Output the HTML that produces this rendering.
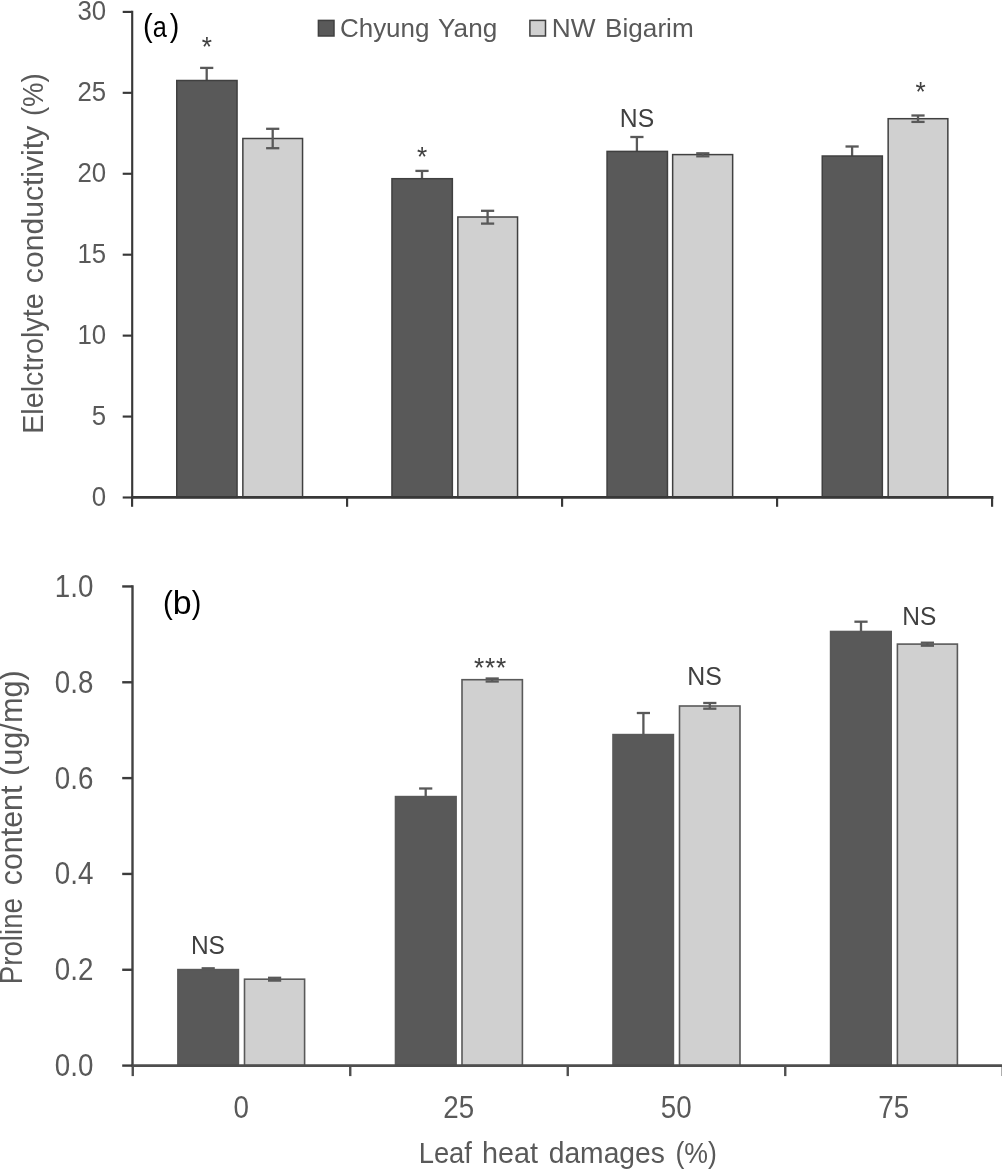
<!DOCTYPE html>
<html><head><meta charset="utf-8"><title>chart</title>
<style>
html,body{margin:0;padding:0;background:#fff;}
svg{display:block;font-family:"Liberation Sans",sans-serif;will-change:transform;}
</style></head><body>
<svg width="1002" height="1170" viewBox="0 0 1002 1170">
<rect width="1002" height="1170" fill="#ffffff"/>
<line x1="206.70" y1="67.90" x2="206.70" y2="93.00" stroke="#595959" stroke-width="2.3"/>
<line x1="200.10" y1="67.90" x2="213.30" y2="67.90" stroke="#595959" stroke-width="2.3"/>
<line x1="200.10" y1="93.00" x2="213.30" y2="93.00" stroke="#595959" stroke-width="2.3"/>
<rect x="176.75" y="80.50" width="60.30" height="417.00" fill="#595959" stroke="#404040" stroke-width="1.5"/>
<rect x="242.85" y="138.50" width="59.70" height="359.00" fill="#d0d0d0" stroke="#404040" stroke-width="1.5"/>
<line x1="272.70" y1="128.80" x2="272.70" y2="148.20" stroke="#595959" stroke-width="2.3"/>
<line x1="266.10" y1="128.80" x2="279.30" y2="128.80" stroke="#595959" stroke-width="2.3"/>
<line x1="266.10" y1="148.20" x2="279.30" y2="148.20" stroke="#595959" stroke-width="2.3"/>
<line x1="422.00" y1="170.90" x2="422.00" y2="186.50" stroke="#595959" stroke-width="2.3"/>
<line x1="415.40" y1="170.90" x2="428.60" y2="170.90" stroke="#595959" stroke-width="2.3"/>
<line x1="415.40" y1="186.50" x2="428.60" y2="186.50" stroke="#595959" stroke-width="2.3"/>
<rect x="391.95" y="178.70" width="60.40" height="318.80" fill="#595959" stroke="#404040" stroke-width="1.5"/>
<rect x="457.85" y="217.00" width="59.70" height="280.50" fill="#d0d0d0" stroke="#404040" stroke-width="1.5"/>
<line x1="487.60" y1="210.80" x2="487.60" y2="223.60" stroke="#595959" stroke-width="2.3"/>
<line x1="481.00" y1="210.80" x2="494.20" y2="210.80" stroke="#595959" stroke-width="2.3"/>
<line x1="481.00" y1="223.60" x2="494.20" y2="223.60" stroke="#595959" stroke-width="2.3"/>
<line x1="636.90" y1="137.00" x2="636.90" y2="165.80" stroke="#595959" stroke-width="2.3"/>
<line x1="630.30" y1="137.00" x2="643.50" y2="137.00" stroke="#595959" stroke-width="2.3"/>
<line x1="630.30" y1="165.80" x2="643.50" y2="165.80" stroke="#595959" stroke-width="2.3"/>
<rect x="607.05" y="151.40" width="60.40" height="346.10" fill="#595959" stroke="#404040" stroke-width="1.5"/>
<rect x="672.65" y="154.60" width="60.00" height="342.90" fill="#d0d0d0" stroke="#404040" stroke-width="1.5"/>
<line x1="702.80" y1="153.30" x2="702.80" y2="156.30" stroke="#595959" stroke-width="2.3"/>
<line x1="696.20" y1="153.30" x2="709.40" y2="153.30" stroke="#595959" stroke-width="2.3"/>
<line x1="696.20" y1="156.30" x2="709.40" y2="156.30" stroke="#595959" stroke-width="2.3"/>
<line x1="852.10" y1="146.50" x2="852.10" y2="165.50" stroke="#595959" stroke-width="2.3"/>
<line x1="845.50" y1="146.50" x2="858.70" y2="146.50" stroke="#595959" stroke-width="2.3"/>
<line x1="845.50" y1="165.50" x2="858.70" y2="165.50" stroke="#595959" stroke-width="2.3"/>
<rect x="822.25" y="156.00" width="60.10" height="341.50" fill="#595959" stroke="#404040" stroke-width="1.5"/>
<rect x="888.15" y="118.70" width="59.70" height="378.80" fill="#d0d0d0" stroke="#404040" stroke-width="1.5"/>
<line x1="918.00" y1="115.50" x2="918.00" y2="121.90" stroke="#595959" stroke-width="2.3"/>
<line x1="911.40" y1="115.50" x2="924.60" y2="115.50" stroke="#595959" stroke-width="2.3"/>
<line x1="911.40" y1="121.90" x2="924.60" y2="121.90" stroke="#595959" stroke-width="2.3"/>
<line x1="132.20" y1="10.80" x2="132.20" y2="498.60" stroke="#383838" stroke-width="2.15"/>
<line x1="131.10" y1="497.40" x2="993.40" y2="497.40" stroke="#383838" stroke-width="2.6"/>
<line x1="122.70" y1="11.90" x2="132.20" y2="11.90" stroke="#383838" stroke-width="2.15"/>
<line x1="122.70" y1="92.83" x2="132.20" y2="92.83" stroke="#383838" stroke-width="2.15"/>
<line x1="122.70" y1="173.77" x2="132.20" y2="173.77" stroke="#383838" stroke-width="2.15"/>
<line x1="122.70" y1="254.70" x2="132.20" y2="254.70" stroke="#383838" stroke-width="2.15"/>
<line x1="122.70" y1="335.63" x2="132.20" y2="335.63" stroke="#383838" stroke-width="2.15"/>
<line x1="122.70" y1="416.57" x2="132.20" y2="416.57" stroke="#383838" stroke-width="2.15"/>
<line x1="122.70" y1="497.50" x2="132.20" y2="497.50" stroke="#383838" stroke-width="2.15"/>
<line x1="132.10" y1="497.50" x2="132.10" y2="506.80" stroke="#383838" stroke-width="2.15"/>
<line x1="347.10" y1="497.50" x2="347.10" y2="506.80" stroke="#383838" stroke-width="2.15"/>
<line x1="562.10" y1="497.50" x2="562.10" y2="506.80" stroke="#383838" stroke-width="2.15"/>
<line x1="777.10" y1="497.50" x2="777.10" y2="506.80" stroke="#383838" stroke-width="2.15"/>
<line x1="992.10" y1="497.50" x2="992.10" y2="506.80" stroke="#383838" stroke-width="2.15"/>
<text transform="translate(77.42,20.30) scale(0.9378,1)" font-size="27.51" fill="#595959">30</text>
<text transform="translate(77.42,101.23) scale(0.9378,1)" font-size="27.51" fill="#595959">25</text>
<text transform="translate(77.42,182.17) scale(0.9378,1)" font-size="27.51" fill="#595959">20</text>
<text transform="translate(77.42,263.10) scale(0.9378,1)" font-size="27.51" fill="#595959">15</text>
<text transform="translate(77.42,344.03) scale(0.9378,1)" font-size="27.51" fill="#595959">10</text>
<text transform="translate(91.76,424.97) scale(0.9378,1)" font-size="27.51" fill="#595959">5</text>
<text transform="translate(91.76,505.90) scale(0.9378,1)" font-size="27.51" fill="#595959">0</text>
<rect x="318.4" y="20.4" width="15.6" height="15.6" fill="#595959" stroke="#404040" stroke-width="1.5"/>
<rect x="529.9" y="20.4" width="15.6" height="15.6" fill="#d0d0d0" stroke="#404040" stroke-width="1.5"/>
<text transform="translate(339.98,37.40) scale(1.0414,1)" font-size="24.93" fill="#595959">Chyung</text>
<text transform="translate(438.12,37.40) scale(1.0494,1)" font-size="24.93" fill="#595959">Yang</text>
<text transform="translate(551.75,37.40) scale(1.0386,1)" font-size="25.29" fill="#595959">NW</text>
<text transform="translate(605.06,37.40) scale(1.0342,1)" font-size="25.29" fill="#595959">Bigarim</text>
<text transform="translate(619.87,127.20) scale(0.9353,1)" font-size="26.45" fill="#404040">NS</text>
<text transform="translate(42.90,433.86) rotate(-90) scale(0.9563,1)" font-size="30.09" fill="#595959">Elelctrolyte</text>
<text transform="translate(42.90,283.17) rotate(-90) scale(1.0014,1)" font-size="30.09" fill="#595959">conductivity</text>
<text transform="translate(42.90,116.11) rotate(-90) scale(0.9151,1)" font-size="30.09" fill="#595959">(%)</text>
<line x1="208.20" y1="968.30" x2="208.20" y2="971.00" stroke="#595959" stroke-width="2.3"/>
<line x1="201.60" y1="968.30" x2="214.80" y2="968.30" stroke="#595959" stroke-width="2.3"/>
<line x1="201.60" y1="971.00" x2="214.80" y2="971.00" stroke="#595959" stroke-width="2.3"/>
<rect x="177.90" y="969.60" width="60.50" height="96.00" fill="#595959" stroke="#595959" stroke-width="1.6"/>
<rect x="244.50" y="979.20" width="60.10" height="86.40" fill="#d0d0d0" stroke="#595959" stroke-width="1.6"/>
<line x1="274.60" y1="977.80" x2="274.60" y2="980.60" stroke="#595959" stroke-width="2.3"/>
<line x1="268.00" y1="977.80" x2="281.20" y2="977.80" stroke="#595959" stroke-width="2.3"/>
<line x1="268.00" y1="980.60" x2="281.20" y2="980.60" stroke="#595959" stroke-width="2.3"/>
<line x1="425.70" y1="788.50" x2="425.70" y2="805.00" stroke="#595959" stroke-width="2.3"/>
<line x1="419.10" y1="788.50" x2="432.30" y2="788.50" stroke="#595959" stroke-width="2.3"/>
<line x1="419.10" y1="805.00" x2="432.30" y2="805.00" stroke="#595959" stroke-width="2.3"/>
<rect x="395.50" y="796.60" width="60.60" height="269.00" fill="#595959" stroke="#595959" stroke-width="1.6"/>
<rect x="462.00" y="679.70" width="60.40" height="385.90" fill="#d0d0d0" stroke="#595959" stroke-width="1.6"/>
<line x1="492.20" y1="678.50" x2="492.20" y2="681.50" stroke="#595959" stroke-width="2.3"/>
<line x1="485.60" y1="678.50" x2="498.80" y2="678.50" stroke="#595959" stroke-width="2.3"/>
<line x1="485.60" y1="681.50" x2="498.80" y2="681.50" stroke="#595959" stroke-width="2.3"/>
<line x1="643.40" y1="713.00" x2="643.40" y2="756.00" stroke="#595959" stroke-width="2.3"/>
<line x1="636.80" y1="713.00" x2="650.00" y2="713.00" stroke="#595959" stroke-width="2.3"/>
<line x1="636.80" y1="756.00" x2="650.00" y2="756.00" stroke="#595959" stroke-width="2.3"/>
<rect x="613.00" y="734.60" width="60.40" height="331.00" fill="#595959" stroke="#595959" stroke-width="1.6"/>
<rect x="679.50" y="706.00" width="60.50" height="359.60" fill="#d0d0d0" stroke="#595959" stroke-width="1.6"/>
<line x1="709.80" y1="703.00" x2="709.80" y2="708.70" stroke="#595959" stroke-width="2.3"/>
<line x1="703.20" y1="703.00" x2="716.40" y2="703.00" stroke="#595959" stroke-width="2.3"/>
<line x1="703.20" y1="708.70" x2="716.40" y2="708.70" stroke="#595959" stroke-width="2.3"/>
<line x1="861.00" y1="621.70" x2="861.00" y2="641.00" stroke="#595959" stroke-width="2.3"/>
<line x1="854.40" y1="621.70" x2="867.60" y2="621.70" stroke="#595959" stroke-width="2.3"/>
<line x1="854.40" y1="641.00" x2="867.60" y2="641.00" stroke="#595959" stroke-width="2.3"/>
<rect x="830.60" y="631.50" width="60.60" height="434.10" fill="#595959" stroke="#595959" stroke-width="1.6"/>
<rect x="897.40" y="644.10" width="60.00" height="421.50" fill="#d0d0d0" stroke="#595959" stroke-width="1.6"/>
<line x1="927.40" y1="642.70" x2="927.40" y2="645.70" stroke="#595959" stroke-width="2.3"/>
<line x1="920.80" y1="642.70" x2="934.00" y2="642.70" stroke="#595959" stroke-width="2.3"/>
<line x1="920.80" y1="645.70" x2="934.00" y2="645.70" stroke="#595959" stroke-width="2.3"/>
<line x1="132.50" y1="585.35" x2="132.50" y2="1066.70" stroke="#424242" stroke-width="2.4"/>
<line x1="131.40" y1="1065.60" x2="1003.00" y2="1065.60" stroke="#4e4e4e" stroke-width="2.6"/>
<line x1="122.20" y1="586.45" x2="132.50" y2="586.45" stroke="#3c3c3c" stroke-width="2.4"/>
<line x1="122.20" y1="682.28" x2="132.50" y2="682.28" stroke="#3c3c3c" stroke-width="2.4"/>
<line x1="122.20" y1="778.11" x2="132.50" y2="778.11" stroke="#3c3c3c" stroke-width="2.4"/>
<line x1="122.20" y1="873.94" x2="132.50" y2="873.94" stroke="#3c3c3c" stroke-width="2.4"/>
<line x1="122.20" y1="969.77" x2="132.50" y2="969.77" stroke="#3c3c3c" stroke-width="2.4"/>
<line x1="122.20" y1="1065.60" x2="132.50" y2="1065.60" stroke="#3c3c3c" stroke-width="2.4"/>
<line x1="132.75" y1="1065.60" x2="132.75" y2="1076.10" stroke="#4e4e4e" stroke-width="2.4"/>
<line x1="350.25" y1="1065.60" x2="350.25" y2="1076.10" stroke="#4e4e4e" stroke-width="2.4"/>
<line x1="567.75" y1="1065.60" x2="567.75" y2="1076.10" stroke="#4e4e4e" stroke-width="2.4"/>
<line x1="785.25" y1="1065.60" x2="785.25" y2="1076.10" stroke="#4e4e4e" stroke-width="2.4"/>
<line x1="1002.75" y1="1065.60" x2="1002.75" y2="1076.10" stroke="#4e4e4e" stroke-width="2.4"/>
<text transform="translate(54.81,596.95) scale(0.8968,1)" font-size="30.95" fill="#595959">1.0</text>
<text transform="translate(54.81,692.78) scale(0.8968,1)" font-size="30.95" fill="#595959">0.8</text>
<text transform="translate(54.81,788.61) scale(0.8968,1)" font-size="30.95" fill="#595959">0.6</text>
<text transform="translate(54.81,884.44) scale(0.8968,1)" font-size="30.95" fill="#595959">0.4</text>
<text transform="translate(54.81,980.27) scale(0.8968,1)" font-size="30.95" fill="#595959">0.2</text>
<text transform="translate(54.81,1076.10) scale(0.8968,1)" font-size="30.95" fill="#595959">0.0</text>
<text transform="translate(233.53,1117.6) scale(0.8968,1)" font-size="30.95" fill="#595959">0</text>
<text transform="translate(443.32,1117.6) scale(0.8968,1)" font-size="30.95" fill="#595959">25</text>
<text transform="translate(660.82,1117.6) scale(0.8968,1)" font-size="30.95" fill="#595959">50</text>
<text transform="translate(878.32,1117.6) scale(0.8968,1)" font-size="30.95" fill="#595959">75</text>
<text transform="translate(190.89,953.80) scale(0.9471,1)" font-size="25.87" fill="#404040">NS</text>
<text transform="translate(687.26,684.80) scale(0.9518,1)" font-size="26.16" fill="#404040">NS</text>
<text transform="translate(902.29,624.80) scale(0.9471,1)" font-size="25.87" fill="#404040">NS</text>
<text transform="translate(22.20,984.27) rotate(-90) scale(0.9082,1)" font-size="30.52" fill="#595959">Proline</text>
<text transform="translate(22.20,885.18) rotate(-90) scale(0.9947,1)" font-size="30.52" fill="#595959">content</text>
<text transform="translate(22.20,776.11) rotate(-90) scale(1.0082,1)" font-size="30.52" fill="#595959">(ug/mg)</text>
<text transform="translate(418.65,1162.80) scale(0.9332,1)" font-size="29.36" fill="#595959">Leaf</text>
<text transform="translate(482.01,1162.80) scale(0.9799,1)" font-size="29.36" fill="#595959">heat</text>
<text transform="translate(548.71,1162.80) scale(0.9620,1)" font-size="29.36" fill="#595959">damages</text>
<text transform="translate(675.44,1162.80) scale(0.9092,1)" font-size="29.36" fill="#595959">(%)</text>
<text transform="translate(143.10,35.78) scale(0.9371,1)" font-size="31.01" fill="#000000">(</text>
<text transform="translate(152.84,36.60) scale(0.8400,1)" font-size="30.11" fill="#000000">a</text>
<text transform="translate(169.63,35.78) scale(0.9249,1)" font-size="31.01" fill="#000000">)</text>
<text transform="translate(162.98,613.07) scale(0.9625,1)" font-size="30.58" fill="#000000">(</text>
<text transform="translate(172.70,613.78) scale(1.0455,1)" font-size="32.38" fill="#000000">b</text>
<text transform="translate(191.73,613.07) scale(0.9379,1)" font-size="30.58" fill="#000000">)</text>
<text transform="translate(201.68,56.02) scale(0.9627,1)" font-size="27.35" fill="#404040">*</text>
<text transform="translate(416.88,166.02) scale(0.9627,1)" font-size="27.35" fill="#404040">*</text>
<text transform="translate(915.48,101.02) scale(0.9627,1)" font-size="27.35" fill="#404040">*</text>
<text transform="translate(474.08,677.02) scale(0.9627,1)" font-size="27.35" fill="#404040">*</text>
<text transform="translate(485.08,677.02) scale(0.9627,1)" font-size="27.35" fill="#404040">*</text>
<text transform="translate(496.08,677.02) scale(0.9627,1)" font-size="27.35" fill="#404040">*</text>
</svg>
</body></html>
